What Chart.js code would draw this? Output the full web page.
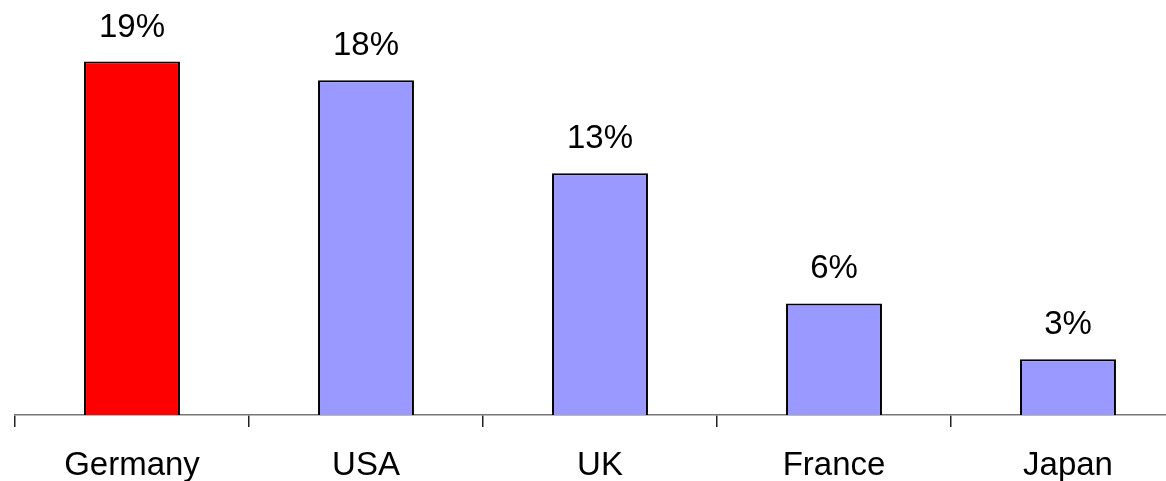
<!DOCTYPE html>
<html>
<head>
<meta charset="utf-8">
<script src="https://cdn.jsdelivr.net/npm/chart.js@4"></script>
<style>
  html, body { margin: 0; padding: 0; background: #fff; overflow: hidden; }
  #caja { width: 1200px; height: 481px; }
</style>
</head>
<body>
<div id="caja"><canvas id="grafica"></canvas></div>
<script>
// datos
const paises = ['Germany', 'USA', 'UK', 'France', 'Japan'];
const valores = [19, 18, 13, 6, 3];
const colores = ['#FF0000', '#9999FF', '#9999FF', '#9999FF', '#9999FF'];

Chart.defaults.font.family = "'Liberation Sans', Arial, sans-serif";
Chart.defaults.color = '#000';

// etiquetas de porcentaje encima de cada barra
const etiquetas = {
    id: 'etiquetas',
    afterDatasetsDraw(chart) {
        const ctx = chart.ctx;
        const meta = chart.getDatasetMeta(0);
        ctx.save();
        ctx.font = "33px 'Liberation Sans', Arial, sans-serif";
        ctx.fillStyle = '#000';
        ctx.textAlign = 'center';
        ctx.textBaseline = 'alphabetic';
        meta.data.forEach(function (barra, i) {
            ctx.fillText(Math.round(valores[i]) + '%', barra.x, barra.y - 25);
        });
        ctx.restore();
    }
};

new Chart(document.getElementById('grafica').getContext('2d'), {
    type: 'bar',
    data: {
        labels: paises,
        datasets: [{
            data: valores,
            backgroundColor: colores,
            borderColor: '#000',
            borderWidth: 2,
            borderSkipped: 'bottom',
            categoryPercentage: 1,
            barPercentage: 0.41
        }]
    },
    options: {
        responsive: true,
        maintainAspectRatio: false,
        animation: false,
        layout: { padding: { left: 15, right: 15, top: 43, bottom: 0 } },
        plugins: {
            legend: { display: false },
            tooltip: { enabled: false }
        },
        scales: {
            x: {
                grid: {
                    drawOnChartArea: false,
                    color: '#222',
                    lineWidth: 1.5,
                    tickLength: 12,
                    offset: true
                },
                border: { color: '#777', width: 1.5 },
                ticks: {
                    font: { size: 33 },
                    color: '#000',
                    padding: 19
                },
                afterFit(escala) {
                    escala.height = 66;
                }
            },
            y: {
                display: false,
                min: 0,
                max: 20
            }
        }
    },
    plugins: [etiquetas]
});
</script>
</body>
</html>
